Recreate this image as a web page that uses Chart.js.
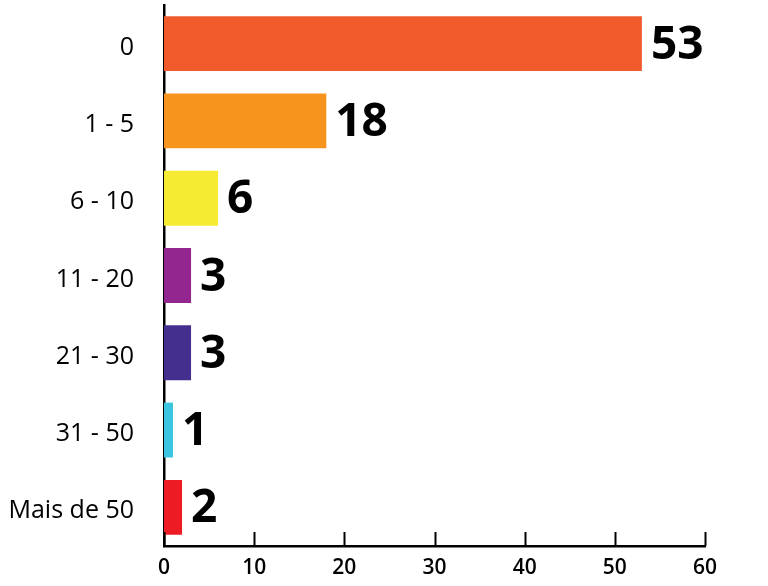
<!DOCTYPE html>
<html><head><meta charset="utf-8">
<script src="https://cdn.jsdelivr.net/npm/chart.js@4"></script>
<style>html,body{margin:0;padding:0;background:#fff}#wrap{width:768px;height:586px}</style>
</head><body><div id="wrap"><canvas id="c" width="768" height="586"></canvas></div>
<script>
const categories = ["0", "1 - 5", "6 - 10", "11 - 20", "21 - 30", "31 - 50", "Mais de 50"];
const values = [53, 18, 6, 3, 3, 1, 2];
const xTicks = [0, 10, 20, 30, 40, 50, 60];
const barColors = ["#F15A2B", "#F7941E", "#F4EB32", "#93278F", "#452F8E", "#3CC5E0", "#ED1C24"];

const decor = {
  id: 'decor',
  afterDatasetsDraw(chart) {
    const ctx = chart.ctx;
    const meta = chart.getDatasetMeta(0);
    ctx.save();
    ctx.fillStyle = '#000';
    ctx.font = 'bold 46px "Open Sans"';
    ctx.textBaseline = 'middle';
    ctx.textAlign = 'left';
    meta.data.forEach((bar, i) => {
      ctx.fillText(String(values[i]), bar.x + 9, bar.y + 2);
    });
    const xs = chart.scales.x;
    const ca = chart.chartArea;
    ctx.strokeStyle = '#000';
    ctx.lineWidth = 2;
    xTicks.forEach(v => {
      const px = Math.round(xs.getPixelForValue(v)) + 0.5;
      ctx.beginPath();
      ctx.moveTo(px, ca.bottom);
      ctx.lineTo(px, ca.bottom - 14);
      ctx.stroke();
    });
    ctx.restore();
  }
};

new Chart(document.getElementById('c'), {
  type: 'bar',
  data: {
    labels: categories,
    datasets: [{ data: values, backgroundColor: barColors, borderWidth: 0, categoryPercentage: 1, barPercentage: 0.71 }]
  },
  options: {
    indexAxis: 'y',
    responsive: false,
    animation: false,
    layout: { padding: { top: 5, right: 63, left: 0, bottom: 0 } },
    plugins: { legend: { display: false }, tooltip: { enabled: false } },
    scales: {
      x: {
        min: 0, max: 60,
        afterBuildTicks(s) { s.ticks = xTicks.map(v => ({ value: v })); },
        grid: { display: false, drawTicks: false },
        border: { display: true, color: '#000', width: 2.5 },
        ticks: { color: '#000', font: { family: '"Open Sans"', size: 21, weight: '600' }, padding: 9 },
        afterFit(s) { s.height = 40; s.paddingLeft = 0; s.paddingRight = 0; }
      },
      y: {
        grid: { display: false, drawTicks: false },
        border: { display: true, color: '#000', width: 2.5 },
        ticks: { color: '#000', font: { family: '"Open Sans"', size: 25 }, padding: 30, labelOffset: 4 },
        afterFit(s) { s.width = 164; s.paddingTop = 0; s.paddingBottom = 0; }
      }
    }
  },
  plugins: [decor]
});
</script>
</body></html>
